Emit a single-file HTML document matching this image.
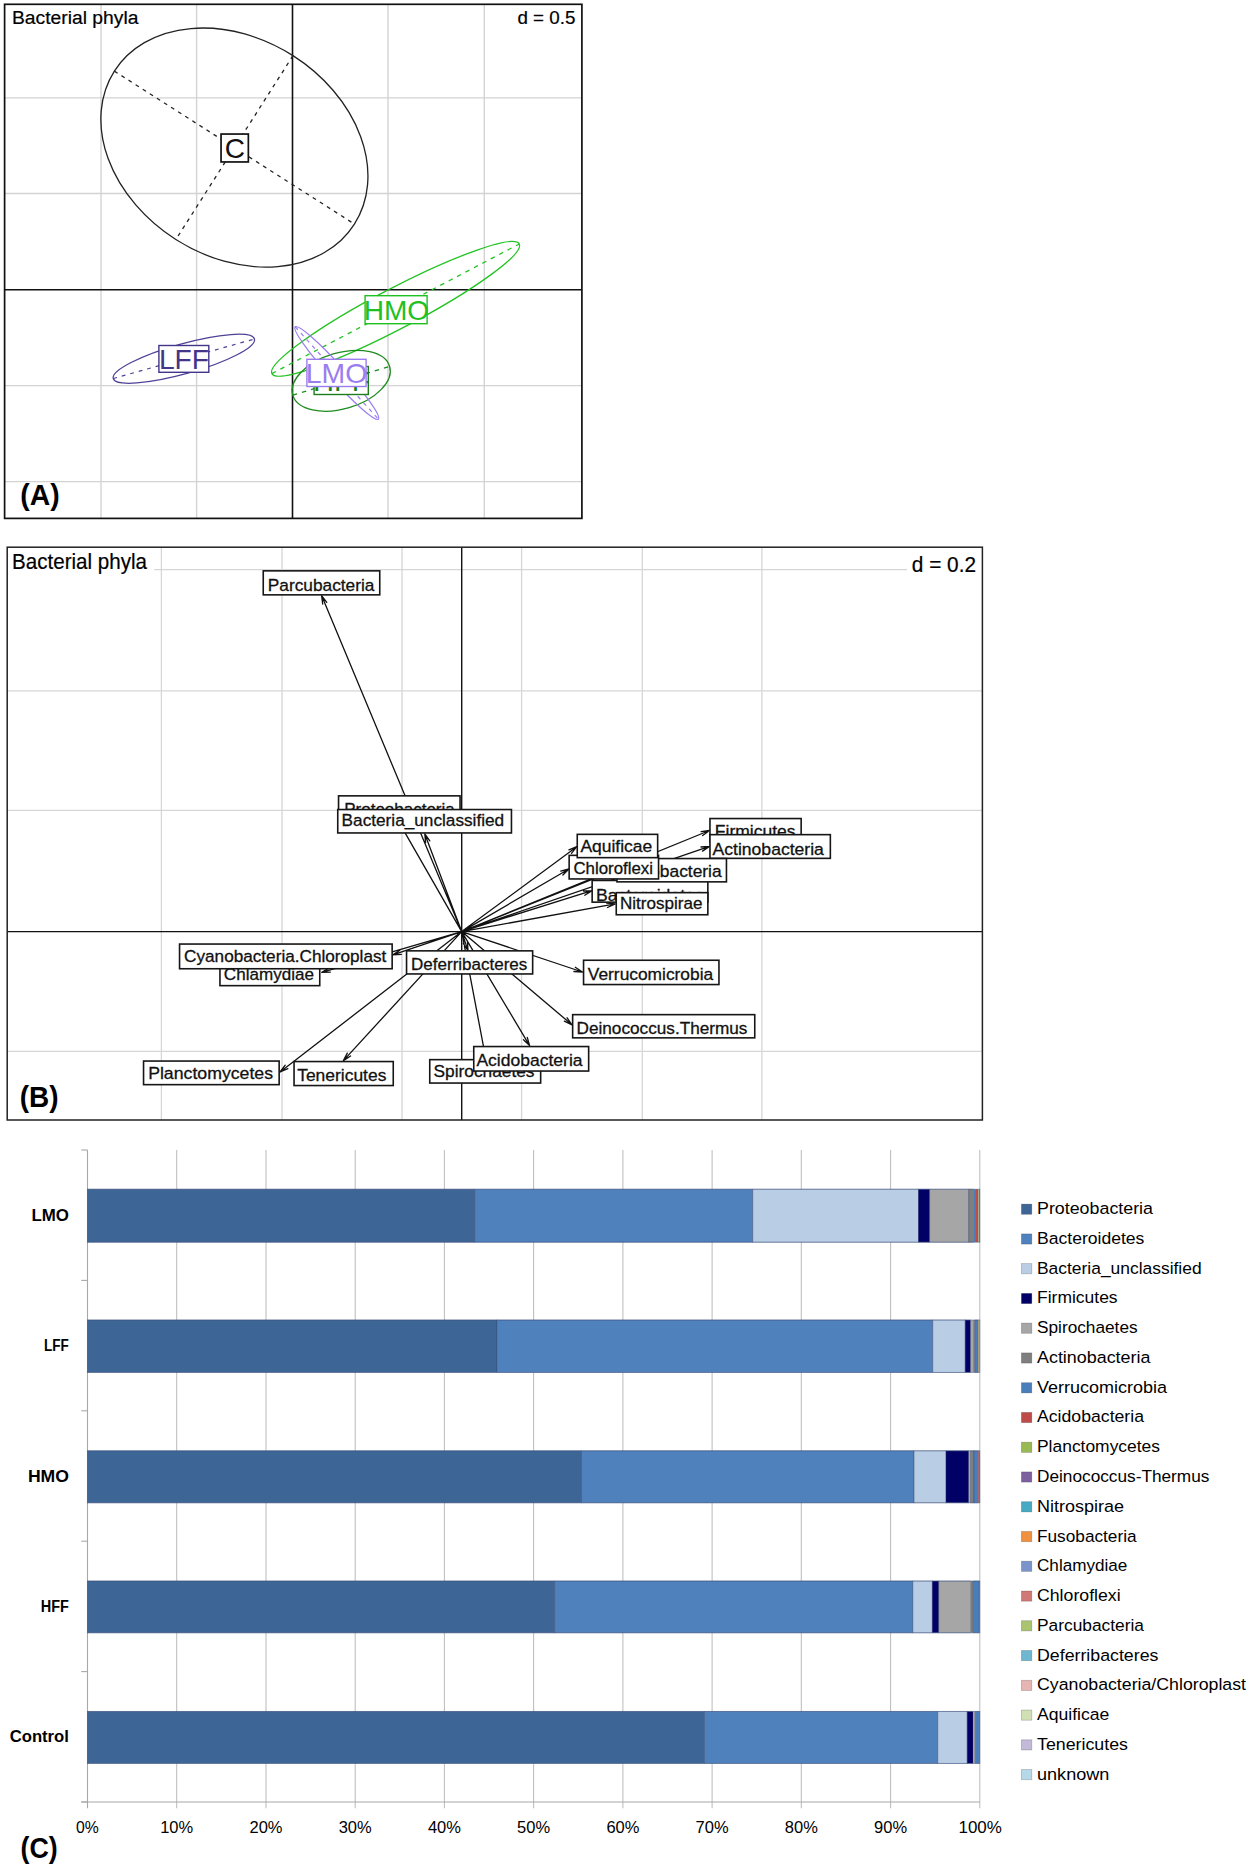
<!DOCTYPE html>
<html lang="en">
<head>
<meta charset="utf-8">
<title>Bacterial phyla figure</title>
<style>
html,body{margin:0;padding:0;background:#fff;}
body{width:1250px;height:1867px;overflow:hidden;}
svg{display:block;font-family:"Liberation Sans", sans-serif;}
</style>
</head>
<body>
<svg width="1250" height="1867" viewBox="0 0 1250 1867">
<rect x="0" y="0" width="1250" height="1867" fill="#ffffff"/>
<g id="panelA">
<line x1="101.0" y1="4.3" x2="101.0" y2="518.4" stroke="#d3d3d3" stroke-width="1.4"/>
<line x1="196.6" y1="4.3" x2="196.6" y2="518.4" stroke="#d3d3d3" stroke-width="1.4"/>
<line x1="388.0" y1="4.3" x2="388.0" y2="518.4" stroke="#d3d3d3" stroke-width="1.4"/>
<line x1="484.3" y1="4.3" x2="484.3" y2="518.4" stroke="#d3d3d3" stroke-width="1.4"/>
<line x1="4.6" y1="97.9" x2="581.9" y2="97.9" stroke="#d3d3d3" stroke-width="1.4"/>
<line x1="4.6" y1="193.5" x2="581.9" y2="193.5" stroke="#d3d3d3" stroke-width="1.4"/>
<line x1="4.6" y1="385.6" x2="581.9" y2="385.6" stroke="#d3d3d3" stroke-width="1.4"/>
<line x1="4.6" y1="481.6" x2="581.9" y2="481.6" stroke="#d3d3d3" stroke-width="1.4"/>
<line x1="292.5" y1="4.3" x2="292.5" y2="518.4" stroke="#111" stroke-width="1.6"/>
<line x1="4.6" y1="289.8" x2="581.9" y2="289.8" stroke="#111" stroke-width="1.6"/>
<rect x="4.6" y="4.3" width="577.3" height="514.1" fill="none" stroke="#111" stroke-width="1.7"/>
<text x="12.0" y="23.7" font-size="18.0" text-anchor="start" font-weight="normal" fill="#000" textLength="126.4" lengthAdjust="spacingAndGlyphs" stroke="#000" stroke-width="0.2">Bacterial phyla</text>
<text x="575.4" y="23.7" font-size="18.0" text-anchor="end" font-weight="normal" fill="#000" textLength="58.0" lengthAdjust="spacingAndGlyphs" stroke="#000" stroke-width="0.2">d = 0.5</text>
<g transform="translate(234.4,147.6) rotate(32.5)">
<ellipse cx="0" cy="0" rx="142.3" ry="109.0" fill="none" stroke="#222" stroke-width="1.3"/>
<line x1="-142.3" y1="0" x2="142.3" y2="0" stroke="#222" stroke-width="1.3" stroke-dasharray="3.8,4.6"/>
<line x1="0" y1="-109.0" x2="0" y2="109.0" stroke="#222" stroke-width="1.3" stroke-dasharray="3.8,4.6"/>
</g>
<g transform="translate(183.85,358.75) rotate(-15.64)">
<ellipse cx="0" cy="0" rx="73.3" ry="15.0" fill="none" stroke="#4f4196" stroke-width="1.25"/>
<line x1="-73.3" y1="0" x2="73.3" y2="0" stroke="#4f4196" stroke-width="1.25" stroke-dasharray="3.8,5"/>
</g>
<g transform="translate(395.6,308.8) rotate(-27.66)">
<ellipse cx="0" cy="0" rx="139.6" ry="20.2" fill="none" stroke="#22c322" stroke-width="1.3"/>
<line x1="-139.6" y1="0" x2="139.6" y2="0" stroke="#22c322" stroke-width="1.3" stroke-dasharray="4.5,5"/>
</g>
<g transform="translate(341.2,380.8) rotate(-16.5)">
<ellipse cx="0" cy="0" rx="50.5" ry="28.0" fill="none" stroke="#1e8c1e" stroke-width="1.3"/>
<line x1="-50.5" y1="0" x2="50.5" y2="0" stroke="#1e8c1e" stroke-width="1.3" stroke-dasharray="4.5,5"/>
</g>
<g transform="translate(336.8,373.0) rotate(48.0)">
<ellipse cx="0" cy="0" rx="62.2" ry="7.5" fill="none" stroke="#9b7df0" stroke-width="1.2"/>
<line x1="-62.2" y1="0" x2="62.2" y2="0" stroke="#9b7df0" stroke-width="1.2" stroke-dasharray="4,4.5"/>
</g>
<rect x="221.05" y="134.05" width="27.30" height="27.90" fill="#fff" stroke="#111" stroke-width="1.7"/>
<text x="234.9" y="158.3" font-size="28" text-anchor="middle" font-weight="normal" fill="#111">C</text>
<rect x="158.90" y="345.50" width="49.90" height="26.80" fill="#fff" stroke="#43358a" stroke-width="1.4"/>
<text x="184.0" y="368.7" font-size="27.8" text-anchor="middle" font-weight="normal" fill="#43358a" textLength="50.2" lengthAdjust="spacingAndGlyphs">LFF</text>
<rect x="365.10" y="295.70" width="62.00" height="28.00" fill="#fff" stroke="#1fc01f" stroke-width="1.4"/>
<text x="396.4" y="319.6" font-size="28" text-anchor="middle" font-weight="normal" fill="#1fc01f" textLength="65.5" lengthAdjust="spacingAndGlyphs">HMO</text>
<rect x="314.10" y="366.50" width="54.20" height="28.00" fill="#fff" stroke="#1a7f1a" stroke-width="1.4"/>
<text x="341.3" y="391.2" font-size="27.8" text-anchor="middle" font-weight="normal" fill="#1a7f1a" textLength="56.5" lengthAdjust="spacingAndGlyphs">HFF</text>
<rect x="306.90" y="359.30" width="59.20" height="27.20" fill="#fff" stroke="#9b7df0" stroke-width="1.4"/>
<text x="336.5" y="383.2" font-size="27.8" text-anchor="middle" font-weight="normal" fill="#9b7df0" textLength="61.5" lengthAdjust="spacingAndGlyphs">LMO</text>
<text x="20.2" y="505.0" font-size="28.6" text-anchor="start" font-weight="bold" fill="#000" textLength="39.4" lengthAdjust="spacingAndGlyphs">(A)</text>
</g>
<g id="panelB">
<line x1="161.4" y1="547.2" x2="161.4" y2="1120.0" stroke="#d6d6d6" stroke-width="1.3"/>
<line x1="282.0" y1="547.2" x2="282.0" y2="1120.0" stroke="#d6d6d6" stroke-width="1.3"/>
<line x1="402.0" y1="547.2" x2="402.0" y2="1120.0" stroke="#d6d6d6" stroke-width="1.3"/>
<line x1="521.6" y1="547.2" x2="521.6" y2="1120.0" stroke="#d6d6d6" stroke-width="1.3"/>
<line x1="642.3" y1="547.2" x2="642.3" y2="1120.0" stroke="#d6d6d6" stroke-width="1.3"/>
<line x1="761.9" y1="547.2" x2="761.9" y2="1120.0" stroke="#d6d6d6" stroke-width="1.3"/>
<line x1="7.2" y1="569.7" x2="982.4" y2="569.7" stroke="#d6d6d6" stroke-width="1.3"/>
<line x1="7.2" y1="690.8" x2="982.4" y2="690.8" stroke="#d6d6d6" stroke-width="1.3"/>
<line x1="7.2" y1="810.4" x2="982.4" y2="810.4" stroke="#d6d6d6" stroke-width="1.3"/>
<line x1="7.2" y1="1051.4" x2="982.4" y2="1051.4" stroke="#d6d6d6" stroke-width="1.3"/>
<line x1="461.7" y1="547.2" x2="461.7" y2="1120.0" stroke="#111" stroke-width="1.4"/>
<line x1="7.2" y1="931.6" x2="982.4" y2="931.6" stroke="#111" stroke-width="1.4"/>
<rect x="7.2" y="547.2" width="147" height="31" fill="#fff"/>
<text x="12.0" y="568.7" font-size="21.5" text-anchor="start" font-weight="normal" fill="#000" textLength="135.0" lengthAdjust="spacingAndGlyphs" stroke="#000" stroke-width="0.2">Bacterial phyla</text>
<rect x="907" y="547.2" width="75.4" height="31" fill="#fff"/>
<text x="976.0" y="571.5" font-size="21.5" text-anchor="end" font-weight="normal" fill="#000" textLength="64.2" lengthAdjust="spacingAndGlyphs" stroke="#000" stroke-width="0.2">d = 0.2</text>
<rect x="7.2" y="547.2" width="975.2" height="572.8" fill="none" stroke="#222" stroke-width="1.5"/>
<path d="M461.7,931.6L321.6,595.6M326.8,602.3L321.6,595.6M322.7,604.0L321.6,595.6M461.7,931.6L397.5,819.6M403.5,825.6L397.5,819.6M399.7,827.8L397.5,819.6M461.7,931.6L424.8,834.0M429.8,840.9L424.8,834.0M425.6,842.5L424.8,834.0M461.7,931.6L576.8,846.7M571.5,853.3L576.8,846.7M568.9,849.8L576.8,846.7M461.7,931.6L568.9,869.0M562.9,875.0L568.9,869.0M560.7,871.2L568.9,869.0M461.7,931.6L616.0,870.0M609.2,875.1L616.0,870.0M607.6,871.0L616.0,870.0M461.7,931.6L592.0,890.6M584.8,895.2L592.0,890.6M583.5,891.0L592.0,890.6M461.7,931.6L615.2,903.9M607.5,907.5L615.2,903.9M606.7,903.2L615.2,903.9M461.7,931.6L709.5,830.5M702.7,835.6L709.5,830.5M701.1,831.6L709.5,830.5M461.7,931.6L709.5,846.4M702.5,851.1L709.5,846.4M701.0,847.0L709.5,846.4M461.7,931.6L582.4,972.0M573.9,971.5L582.4,972.0M575.3,967.3L582.4,972.0M461.7,931.6L572.0,1024.8M564.3,1021.2L572.0,1024.8M567.1,1017.8L572.0,1024.8M461.7,931.6L529.6,1045.6M523.5,1039.7L529.6,1045.6M527.3,1037.4L529.6,1045.6M461.7,931.6L485.8,1058.7M482.1,1051.0L485.8,1058.7M486.4,1050.2L485.8,1058.7M461.7,931.6L468.0,950.6M463.3,943.5L468.0,950.6M467.5,942.1L468.0,950.6M461.7,931.6L392.8,954.9M399.9,950.2L392.8,954.9M401.3,954.4L392.8,954.9M461.7,931.6L321.8,972.4M329.1,968.0L321.8,972.4M330.3,972.2L321.8,972.4M461.7,931.6L280.1,1072.0M285.2,1065.2L280.1,1072.0M287.9,1068.7L280.1,1072.0M461.7,931.6L343.4,1060.6M347.3,1053.1L343.4,1060.6M350.6,1056.0L343.4,1060.6" fill="none" stroke="#111" stroke-width="1.3" stroke-linecap="round"/>
<rect x="263.25" y="570.85" width="116.50" height="24.00" fill="#fff" stroke="#161616" stroke-width="1.6"/>
<text x="321.1" y="590.8" font-size="17.2" text-anchor="middle" font-weight="normal" fill="#111" textLength="106.6" lengthAdjust="spacingAndGlyphs" stroke="#111" stroke-width="0.3">Parcubacteria</text>
<rect x="338.55" y="795.85" width="121.50" height="23.60" fill="#fff" stroke="#161616" stroke-width="1.6"/>
<text x="399.5" y="815.2" font-size="17.2" text-anchor="middle" font-weight="normal" fill="#111" textLength="110.5" lengthAdjust="spacingAndGlyphs" stroke="#111" stroke-width="0.3">Proteobacteria</text>
<rect x="337.75" y="809.55" width="173.70" height="23.40" fill="#fff" stroke="#161616" stroke-width="1.6"/>
<text x="422.9" y="826.3" font-size="17.2" text-anchor="middle" font-weight="normal" fill="#111" textLength="162.6" lengthAdjust="spacingAndGlyphs" stroke="#111" stroke-width="0.3">Bacteria_unclassified</text>
<rect x="709.95" y="818.55" width="91.20" height="23.60" fill="#fff" stroke="#161616" stroke-width="1.6"/>
<text x="755.2" y="837.4" font-size="17.2" text-anchor="middle" font-weight="normal" fill="#111" textLength="80.7" lengthAdjust="spacingAndGlyphs" stroke="#111" stroke-width="0.3">Firmicutes</text>
<rect x="709.95" y="834.65" width="120.40" height="23.70" fill="#fff" stroke="#161616" stroke-width="1.6"/>
<text x="768.2" y="854.8" font-size="17.2" text-anchor="middle" font-weight="normal" fill="#111" textLength="111.4" lengthAdjust="spacingAndGlyphs" stroke="#111" stroke-width="0.3">Actinobacteria</text>
<rect x="592.15" y="880.45" width="115.70" height="21.70" fill="#fff" stroke="#161616" stroke-width="1.6"/>
<text x="649.8" y="900.5" font-size="17.2" text-anchor="middle" font-weight="normal" fill="#111" textLength="107.8" lengthAdjust="spacingAndGlyphs" stroke="#111" stroke-width="0.3">Bacteroidetes</text>
<rect x="616.95" y="858.55" width="109.50" height="23.30" fill="#fff" stroke="#161616" stroke-width="1.6"/>
<text x="671.4" y="877.2" font-size="17.2" text-anchor="middle" font-weight="normal" fill="#111" textLength="100.5" lengthAdjust="spacingAndGlyphs" stroke="#111" stroke-width="0.3">Fusobacteria</text>
<rect x="569.15" y="855.35" width="89.40" height="23.60" fill="#fff" stroke="#161616" stroke-width="1.6"/>
<text x="613.2" y="874.3" font-size="17.2" text-anchor="middle" font-weight="normal" fill="#111" textLength="79.6" lengthAdjust="spacingAndGlyphs" stroke="#111" stroke-width="0.3">Chloroflexi</text>
<rect x="577.25" y="834.35" width="80.40" height="23.30" fill="#fff" stroke="#161616" stroke-width="1.6"/>
<text x="616.3" y="851.9" font-size="17.2" text-anchor="middle" font-weight="normal" fill="#111" textLength="71.8" lengthAdjust="spacingAndGlyphs" stroke="#111" stroke-width="0.3">Aquificae</text>
<rect x="616.25" y="892.65" width="91.60" height="22.10" fill="#fff" stroke="#161616" stroke-width="1.6"/>
<text x="661.2" y="909.3" font-size="17.2" text-anchor="middle" font-weight="normal" fill="#111" textLength="82.4" lengthAdjust="spacingAndGlyphs" stroke="#111" stroke-width="0.3">Nitrospirae</text>
<rect x="583.55" y="960.25" width="135.40" height="24.30" fill="#fff" stroke="#161616" stroke-width="1.6"/>
<text x="650.5" y="980.1" font-size="17.2" text-anchor="middle" font-weight="normal" fill="#111" textLength="125.3" lengthAdjust="spacingAndGlyphs" stroke="#111" stroke-width="0.3">Verrucomicrobia</text>
<rect x="572.65" y="1014.65" width="182.10" height="23.20" fill="#fff" stroke="#161616" stroke-width="1.6"/>
<text x="662.0" y="1034.3" font-size="17.2" text-anchor="middle" font-weight="normal" fill="#111" textLength="170.9" lengthAdjust="spacingAndGlyphs" stroke="#111" stroke-width="0.3">Deinococcus.Thermus</text>
<rect x="429.75" y="1059.65" width="110.90" height="23.40" fill="#fff" stroke="#161616" stroke-width="1.6"/>
<text x="484.0" y="1077.3" font-size="17.2" text-anchor="middle" font-weight="normal" fill="#111" textLength="101.0" lengthAdjust="spacingAndGlyphs" stroke="#111" stroke-width="0.3">Spirochaetes</text>
<rect x="473.75" y="1046.55" width="114.90" height="24.50" fill="#fff" stroke="#161616" stroke-width="1.6"/>
<text x="529.5" y="1066.4" font-size="17.2" text-anchor="middle" font-weight="normal" fill="#111" textLength="106.1" lengthAdjust="spacingAndGlyphs" stroke="#111" stroke-width="0.3">Acidobacteria</text>
<rect x="406.55" y="950.85" width="126.10" height="23.10" fill="#fff" stroke="#161616" stroke-width="1.6"/>
<text x="469.2" y="970.4" font-size="17.2" text-anchor="middle" font-weight="normal" fill="#111" textLength="116.2" lengthAdjust="spacingAndGlyphs" stroke="#111" stroke-width="0.3">Deferribacteres</text>
<rect x="219.95" y="962.05" width="99.80" height="23.60" fill="#fff" stroke="#161616" stroke-width="1.6"/>
<text x="268.9" y="979.5" font-size="17.2" text-anchor="middle" font-weight="normal" fill="#111" textLength="90.1" lengthAdjust="spacingAndGlyphs" stroke="#111" stroke-width="0.3">Chlamydiae</text>
<rect x="179.55" y="944.05" width="212.60" height="24.70" fill="#fff" stroke="#161616" stroke-width="1.6"/>
<text x="285.2" y="961.7" font-size="17.2" text-anchor="middle" font-weight="normal" fill="#111" textLength="202.2" lengthAdjust="spacingAndGlyphs" stroke="#111" stroke-width="0.3">Cyanobacteria.Chloroplast</text>
<rect x="143.55" y="1061.05" width="135.60" height="23.60" fill="#fff" stroke="#161616" stroke-width="1.6"/>
<text x="210.6" y="1078.5" font-size="17.2" text-anchor="middle" font-weight="normal" fill="#111" textLength="124.9" lengthAdjust="spacingAndGlyphs" stroke="#111" stroke-width="0.3">Planctomycetes</text>
<rect x="294.05" y="1061.55" width="99.20" height="24.00" fill="#fff" stroke="#161616" stroke-width="1.6"/>
<text x="341.8" y="1080.6" font-size="17.2" text-anchor="middle" font-weight="normal" fill="#111" textLength="89.2" lengthAdjust="spacingAndGlyphs" stroke="#111" stroke-width="0.3">Tenericutes</text>
<text x="19.8" y="1106.5" font-size="28.6" text-anchor="start" font-weight="bold" fill="#000" textLength="38.8" lengthAdjust="spacingAndGlyphs">(B)</text>
</g>
<g id="panelC">
<line x1="176.7" y1="1150.0" x2="176.7" y2="1808.2" stroke="#bdbdbd" stroke-width="1.05"/>
<line x1="266.0" y1="1150.0" x2="266.0" y2="1808.2" stroke="#bdbdbd" stroke-width="1.05"/>
<line x1="355.2" y1="1150.0" x2="355.2" y2="1808.2" stroke="#bdbdbd" stroke-width="1.05"/>
<line x1="444.4" y1="1150.0" x2="444.4" y2="1808.2" stroke="#bdbdbd" stroke-width="1.05"/>
<line x1="533.6" y1="1150.0" x2="533.6" y2="1808.2" stroke="#bdbdbd" stroke-width="1.05"/>
<line x1="622.9" y1="1150.0" x2="622.9" y2="1808.2" stroke="#bdbdbd" stroke-width="1.05"/>
<line x1="712.1" y1="1150.0" x2="712.1" y2="1808.2" stroke="#bdbdbd" stroke-width="1.05"/>
<line x1="801.3" y1="1150.0" x2="801.3" y2="1808.2" stroke="#bdbdbd" stroke-width="1.05"/>
<line x1="890.6" y1="1150.0" x2="890.6" y2="1808.2" stroke="#bdbdbd" stroke-width="1.05"/>
<line x1="979.8" y1="1150.0" x2="979.8" y2="1808.2" stroke="#bdbdbd" stroke-width="1.05"/>
<line x1="87.5" y1="1150.0" x2="87.5" y2="1808.2" stroke="#a8a8a8" stroke-width="1.1"/>
<line x1="81.3" y1="1150.0" x2="87.5" y2="1150.0" stroke="#a8a8a8" stroke-width="1.1"/>
<line x1="81.3" y1="1280.4" x2="87.5" y2="1280.4" stroke="#a8a8a8" stroke-width="1.1"/>
<line x1="81.3" y1="1410.8" x2="87.5" y2="1410.8" stroke="#a8a8a8" stroke-width="1.1"/>
<line x1="81.3" y1="1541.2" x2="87.5" y2="1541.2" stroke="#a8a8a8" stroke-width="1.1"/>
<line x1="81.3" y1="1671.6" x2="87.5" y2="1671.6" stroke="#a8a8a8" stroke-width="1.1"/>
<line x1="81.3" y1="1802.0" x2="87.5" y2="1802.0" stroke="#a8a8a8" stroke-width="1.1"/>
<line x1="81.3" y1="1802.0" x2="979.8" y2="1802.0" stroke="#a8a8a8" stroke-width="1.1"/>
<rect x="87.5" y="1189.2" width="387.3" height="53.0" fill="#3d6697" stroke="#2f3f66" stroke-opacity="0.45" stroke-width="0.8"/>
<rect x="474.8" y="1189.2" width="278.0" height="53.0" fill="#4f81bd" stroke="#2f3f66" stroke-opacity="0.45" stroke-width="0.8"/>
<rect x="752.8" y="1189.2" width="165.6" height="53.0" fill="#b9cde5" stroke="#2f3f66" stroke-opacity="0.45" stroke-width="0.8"/>
<rect x="918.4" y="1189.2" width="11.3" height="53.0" fill="#000066" stroke="#2f3f66" stroke-opacity="0.45" stroke-width="0.8"/>
<rect x="929.7" y="1189.2" width="39.1" height="53.0" fill="#a6a6a6" stroke="#2f3f66" stroke-opacity="0.45" stroke-width="0.8"/>
<rect x="968.8" y="1189.2" width="4.8" height="53.0" fill="#7f7f7f" stroke="#2f3f66" stroke-opacity="0.45" stroke-width="0.8"/>
<rect x="973.6" y="1189.2" width="2.4" height="53.0" fill="#4a7ebb"/>
<rect x="976.0" y="1189.2" width="2.0" height="53.0" fill="#be4b48"/>
<rect x="978.0" y="1189.2" width="0.7" height="53.0" fill="#98b954"/>
<rect x="978.7" y="1189.2" width="1.1" height="53.0" fill="#7d60a0"/>
<rect x="87.5" y="1189.2" width="892.3" height="53.0" fill="none" stroke="#4a5f8a" stroke-opacity="0.55" stroke-width="0.9"/>
<text x="68.9" y="1220.7" font-size="16" text-anchor="end" font-weight="bold" fill="#000" textLength="37.5" lengthAdjust="spacingAndGlyphs">LMO</text>
<rect x="87.5" y="1320.0" width="409.6" height="52.4" fill="#3d6697" stroke="#2f3f66" stroke-opacity="0.45" stroke-width="0.8"/>
<rect x="497.1" y="1320.0" width="435.7" height="52.4" fill="#4f81bd" stroke="#2f3f66" stroke-opacity="0.45" stroke-width="0.8"/>
<rect x="932.8" y="1320.0" width="32.4" height="52.4" fill="#b9cde5" stroke="#2f3f66" stroke-opacity="0.45" stroke-width="0.8"/>
<rect x="965.2" y="1320.0" width="5.5" height="52.4" fill="#000066" stroke="#2f3f66" stroke-opacity="0.45" stroke-width="0.8"/>
<rect x="970.7" y="1320.0" width="2.4" height="52.4" fill="#a6a6a6"/>
<rect x="973.1" y="1320.0" width="1.7" height="52.4" fill="#7f7f7f"/>
<rect x="974.8" y="1320.0" width="3.4" height="52.4" fill="#4a7ebb" stroke="#2f3f66" stroke-opacity="0.45" stroke-width="0.8"/>
<rect x="978.2" y="1320.0" width="0.4" height="52.4" fill="#be4b48"/>
<rect x="978.6" y="1320.0" width="1.2" height="52.4" fill="#98b954"/>
<rect x="87.5" y="1320.0" width="892.3" height="52.4" fill="none" stroke="#4a5f8a" stroke-opacity="0.55" stroke-width="0.9"/>
<text x="68.9" y="1351.2" font-size="16" text-anchor="end" font-weight="bold" fill="#000" textLength="24.8" lengthAdjust="spacingAndGlyphs">LFF</text>
<rect x="87.5" y="1450.8" width="494.1" height="52.0" fill="#3d6697" stroke="#2f3f66" stroke-opacity="0.45" stroke-width="0.8"/>
<rect x="581.6" y="1450.8" width="332.5" height="52.0" fill="#4f81bd" stroke="#2f3f66" stroke-opacity="0.45" stroke-width="0.8"/>
<rect x="914.1" y="1450.8" width="31.9" height="52.0" fill="#b9cde5" stroke="#2f3f66" stroke-opacity="0.45" stroke-width="0.8"/>
<rect x="946.0" y="1450.8" width="22.8" height="52.0" fill="#000066" stroke="#2f3f66" stroke-opacity="0.45" stroke-width="0.8"/>
<rect x="968.8" y="1450.8" width="1.6" height="52.0" fill="#a6a6a6"/>
<rect x="970.4" y="1450.8" width="3.6" height="52.0" fill="#7f7f7f" stroke="#2f3f66" stroke-opacity="0.45" stroke-width="0.8"/>
<rect x="974.0" y="1450.8" width="4.4" height="52.0" fill="#4a7ebb" stroke="#2f3f66" stroke-opacity="0.45" stroke-width="0.8"/>
<rect x="978.4" y="1450.8" width="1.4" height="52.0" fill="#be4b48"/>
<rect x="87.5" y="1450.8" width="892.3" height="52.0" fill="none" stroke="#4a5f8a" stroke-opacity="0.55" stroke-width="0.9"/>
<text x="68.9" y="1481.8" font-size="16" text-anchor="end" font-weight="bold" fill="#000" textLength="41.0" lengthAdjust="spacingAndGlyphs">HMO</text>
<rect x="87.5" y="1581.0" width="467.2" height="51.8" fill="#3d6697" stroke="#2f3f66" stroke-opacity="0.45" stroke-width="0.8"/>
<rect x="554.7" y="1581.0" width="358.2" height="51.8" fill="#4f81bd" stroke="#2f3f66" stroke-opacity="0.45" stroke-width="0.8"/>
<rect x="912.9" y="1581.0" width="19.4" height="51.8" fill="#b9cde5" stroke="#2f3f66" stroke-opacity="0.45" stroke-width="0.8"/>
<rect x="932.3" y="1581.0" width="6.5" height="51.8" fill="#000066" stroke="#2f3f66" stroke-opacity="0.45" stroke-width="0.8"/>
<rect x="938.8" y="1581.0" width="31.7" height="51.8" fill="#a6a6a6" stroke="#2f3f66" stroke-opacity="0.45" stroke-width="0.8"/>
<rect x="970.5" y="1581.0" width="2.6" height="51.8" fill="#7f7f7f"/>
<rect x="973.1" y="1581.0" width="6.0" height="51.8" fill="#4a7ebb" stroke="#2f3f66" stroke-opacity="0.45" stroke-width="0.8"/>
<rect x="979.1" y="1581.0" width="0.7" height="51.8" fill="#be4b48"/>
<rect x="87.5" y="1581.0" width="892.3" height="51.8" fill="none" stroke="#4a5f8a" stroke-opacity="0.55" stroke-width="0.9"/>
<text x="68.9" y="1611.9" font-size="16" text-anchor="end" font-weight="bold" fill="#000" textLength="28.2" lengthAdjust="spacingAndGlyphs">HFF</text>
<rect x="87.5" y="1711.4" width="617.0" height="52.0" fill="#3d6697" stroke="#2f3f66" stroke-opacity="0.45" stroke-width="0.8"/>
<rect x="704.5" y="1711.4" width="233.3" height="52.0" fill="#4f81bd" stroke="#2f3f66" stroke-opacity="0.45" stroke-width="0.8"/>
<rect x="937.8" y="1711.4" width="29.4" height="52.0" fill="#b9cde5" stroke="#2f3f66" stroke-opacity="0.45" stroke-width="0.8"/>
<rect x="967.2" y="1711.4" width="5.8" height="52.0" fill="#000066" stroke="#2f3f66" stroke-opacity="0.45" stroke-width="0.8"/>
<rect x="973.0" y="1711.4" width="1.2" height="52.0" fill="#a6a6a6"/>
<rect x="974.2" y="1711.4" width="1.3" height="52.0" fill="#7f7f7f"/>
<rect x="975.5" y="1711.4" width="3.9" height="52.0" fill="#4a7ebb" stroke="#2f3f66" stroke-opacity="0.45" stroke-width="0.8"/>
<rect x="979.4" y="1711.4" width="0.4" height="52.0" fill="#be4b48"/>
<rect x="87.5" y="1711.4" width="892.3" height="52.0" fill="none" stroke="#4a5f8a" stroke-opacity="0.55" stroke-width="0.9"/>
<text x="68.9" y="1742.4" font-size="16" text-anchor="end" font-weight="bold" fill="#000" textLength="59.2" lengthAdjust="spacingAndGlyphs">Control</text>
<text x="87.5" y="1832.8" font-size="16.4" text-anchor="middle" font-weight="normal" fill="#000" textLength="22.8" lengthAdjust="spacingAndGlyphs">0%</text>
<text x="176.7" y="1832.8" font-size="16.4" text-anchor="middle" font-weight="normal" fill="#000" textLength="33.0" lengthAdjust="spacingAndGlyphs">10%</text>
<text x="266.0" y="1832.8" font-size="16.4" text-anchor="middle" font-weight="normal" fill="#000" textLength="33.0" lengthAdjust="spacingAndGlyphs">20%</text>
<text x="355.2" y="1832.8" font-size="16.4" text-anchor="middle" font-weight="normal" fill="#000" textLength="33.0" lengthAdjust="spacingAndGlyphs">30%</text>
<text x="444.4" y="1832.8" font-size="16.4" text-anchor="middle" font-weight="normal" fill="#000" textLength="33.0" lengthAdjust="spacingAndGlyphs">40%</text>
<text x="533.6" y="1832.8" font-size="16.4" text-anchor="middle" font-weight="normal" fill="#000" textLength="33.0" lengthAdjust="spacingAndGlyphs">50%</text>
<text x="622.9" y="1832.8" font-size="16.4" text-anchor="middle" font-weight="normal" fill="#000" textLength="33.0" lengthAdjust="spacingAndGlyphs">60%</text>
<text x="712.1" y="1832.8" font-size="16.4" text-anchor="middle" font-weight="normal" fill="#000" textLength="33.0" lengthAdjust="spacingAndGlyphs">70%</text>
<text x="801.3" y="1832.8" font-size="16.4" text-anchor="middle" font-weight="normal" fill="#000" textLength="33.0" lengthAdjust="spacingAndGlyphs">80%</text>
<text x="890.6" y="1832.8" font-size="16.4" text-anchor="middle" font-weight="normal" fill="#000" textLength="33.0" lengthAdjust="spacingAndGlyphs">90%</text>
<text x="980.2" y="1832.8" font-size="16.4" text-anchor="middle" font-weight="normal" fill="#000" textLength="43.4" lengthAdjust="spacingAndGlyphs">100%</text>
<rect x="1021.4" y="1204.1" width="10.4" height="10.2" fill="#3d6697" stroke="#000" stroke-opacity="0.22" stroke-width="0.8"/>
<text x="1037.0" y="1214.1" font-size="16.8" text-anchor="start" font-weight="normal" fill="#000" textLength="116.0" lengthAdjust="spacingAndGlyphs">Proteobacteria</text>
<rect x="1021.4" y="1233.9" width="10.4" height="10.2" fill="#4f81bd" stroke="#000" stroke-opacity="0.22" stroke-width="0.8"/>
<text x="1037.0" y="1243.9" font-size="16.8" text-anchor="start" font-weight="normal" fill="#000" textLength="107.4" lengthAdjust="spacingAndGlyphs">Bacteroidetes</text>
<rect x="1021.4" y="1263.6" width="10.4" height="10.2" fill="#b9cde5" stroke="#000" stroke-opacity="0.22" stroke-width="0.8"/>
<text x="1037.0" y="1273.6" font-size="16.8" text-anchor="start" font-weight="normal" fill="#000" textLength="164.6" lengthAdjust="spacingAndGlyphs">Bacteria_unclassified</text>
<rect x="1021.4" y="1293.4" width="10.4" height="10.2" fill="#000066" stroke="#000" stroke-opacity="0.22" stroke-width="0.8"/>
<text x="1037.0" y="1303.4" font-size="16.8" text-anchor="start" font-weight="normal" fill="#000" textLength="80.6" lengthAdjust="spacingAndGlyphs">Firmicutes</text>
<rect x="1021.4" y="1323.1" width="10.4" height="10.2" fill="#a6a6a6" stroke="#000" stroke-opacity="0.22" stroke-width="0.8"/>
<text x="1037.0" y="1333.1" font-size="16.8" text-anchor="start" font-weight="normal" fill="#000" textLength="100.6" lengthAdjust="spacingAndGlyphs">Spirochaetes</text>
<rect x="1021.4" y="1352.9" width="10.4" height="10.2" fill="#7f7f7f" stroke="#000" stroke-opacity="0.22" stroke-width="0.8"/>
<text x="1037.0" y="1362.9" font-size="16.8" text-anchor="start" font-weight="normal" fill="#000" textLength="113.4" lengthAdjust="spacingAndGlyphs">Actinobacteria</text>
<rect x="1021.4" y="1382.7" width="10.4" height="10.2" fill="#4a7ebb" stroke="#000" stroke-opacity="0.22" stroke-width="0.8"/>
<text x="1037.0" y="1392.7" font-size="16.8" text-anchor="start" font-weight="normal" fill="#000" textLength="130.0" lengthAdjust="spacingAndGlyphs">Verrucomicrobia</text>
<rect x="1021.4" y="1412.4" width="10.4" height="10.2" fill="#be4b48" stroke="#000" stroke-opacity="0.22" stroke-width="0.8"/>
<text x="1037.0" y="1422.4" font-size="16.8" text-anchor="start" font-weight="normal" fill="#000" textLength="107.0" lengthAdjust="spacingAndGlyphs">Acidobacteria</text>
<rect x="1021.4" y="1442.2" width="10.4" height="10.2" fill="#98b954" stroke="#000" stroke-opacity="0.22" stroke-width="0.8"/>
<text x="1037.0" y="1452.2" font-size="16.8" text-anchor="start" font-weight="normal" fill="#000" textLength="123.0" lengthAdjust="spacingAndGlyphs">Planctomycetes</text>
<rect x="1021.4" y="1471.9" width="10.4" height="10.2" fill="#7d60a0" stroke="#000" stroke-opacity="0.22" stroke-width="0.8"/>
<text x="1037.0" y="1481.9" font-size="16.8" text-anchor="start" font-weight="normal" fill="#000" textLength="172.4" lengthAdjust="spacingAndGlyphs">Deinococcus-Thermus</text>
<rect x="1021.4" y="1501.7" width="10.4" height="10.2" fill="#46aac5" stroke="#000" stroke-opacity="0.22" stroke-width="0.8"/>
<text x="1037.0" y="1511.7" font-size="16.8" text-anchor="start" font-weight="normal" fill="#000" textLength="87.0" lengthAdjust="spacingAndGlyphs">Nitrospirae</text>
<rect x="1021.4" y="1531.5" width="10.4" height="10.2" fill="#f0913f" stroke="#000" stroke-opacity="0.22" stroke-width="0.8"/>
<text x="1037.0" y="1541.5" font-size="16.8" text-anchor="start" font-weight="normal" fill="#000" textLength="99.6" lengthAdjust="spacingAndGlyphs">Fusobacteria</text>
<rect x="1021.4" y="1561.2" width="10.4" height="10.2" fill="#7a93cb" stroke="#000" stroke-opacity="0.22" stroke-width="0.8"/>
<text x="1037.0" y="1571.2" font-size="16.8" text-anchor="start" font-weight="normal" fill="#000" textLength="90.4" lengthAdjust="spacingAndGlyphs">Chlamydiae</text>
<rect x="1021.4" y="1591.0" width="10.4" height="10.2" fill="#d07876" stroke="#000" stroke-opacity="0.22" stroke-width="0.8"/>
<text x="1037.0" y="1601.0" font-size="16.8" text-anchor="start" font-weight="normal" fill="#000" textLength="83.6" lengthAdjust="spacingAndGlyphs">Chloroflexi</text>
<rect x="1021.4" y="1620.7" width="10.4" height="10.2" fill="#aac472" stroke="#000" stroke-opacity="0.22" stroke-width="0.8"/>
<text x="1037.0" y="1630.7" font-size="16.8" text-anchor="start" font-weight="normal" fill="#000" textLength="107.0" lengthAdjust="spacingAndGlyphs">Parcubacteria</text>
<rect x="1021.4" y="1650.5" width="10.4" height="10.2" fill="#6fb7d1" stroke="#000" stroke-opacity="0.22" stroke-width="0.8"/>
<text x="1037.0" y="1660.5" font-size="16.8" text-anchor="start" font-weight="normal" fill="#000" textLength="121.4" lengthAdjust="spacingAndGlyphs">Deferribacteres</text>
<rect x="1021.4" y="1680.3" width="10.4" height="10.2" fill="#e6b5b3" stroke="#000" stroke-opacity="0.22" stroke-width="0.8"/>
<text x="1037.0" y="1690.3" font-size="16.8" text-anchor="start" font-weight="normal" fill="#000" textLength="209.0" lengthAdjust="spacingAndGlyphs">Cyanobacteria/Chloroplast</text>
<rect x="1021.4" y="1710.0" width="10.4" height="10.2" fill="#d0e0b4" stroke="#000" stroke-opacity="0.22" stroke-width="0.8"/>
<text x="1037.0" y="1720.0" font-size="16.8" text-anchor="start" font-weight="normal" fill="#000" textLength="72.4" lengthAdjust="spacingAndGlyphs">Aquificae</text>
<rect x="1021.4" y="1739.8" width="10.4" height="10.2" fill="#c3b9d8" stroke="#000" stroke-opacity="0.22" stroke-width="0.8"/>
<text x="1037.0" y="1749.8" font-size="16.8" text-anchor="start" font-weight="normal" fill="#000" textLength="91.0" lengthAdjust="spacingAndGlyphs">Tenericutes</text>
<rect x="1021.4" y="1769.5" width="10.4" height="10.2" fill="#b5d9e8" stroke="#000" stroke-opacity="0.22" stroke-width="0.8"/>
<text x="1037.0" y="1779.5" font-size="16.8" text-anchor="start" font-weight="normal" fill="#000" textLength="72.4" lengthAdjust="spacingAndGlyphs">unknown</text>
<text x="20.6" y="1857.8" font-size="28.6" text-anchor="start" font-weight="bold" fill="#000" textLength="37.2" lengthAdjust="spacingAndGlyphs">(C)</text>
</g>
</svg>
</body>
</html>
